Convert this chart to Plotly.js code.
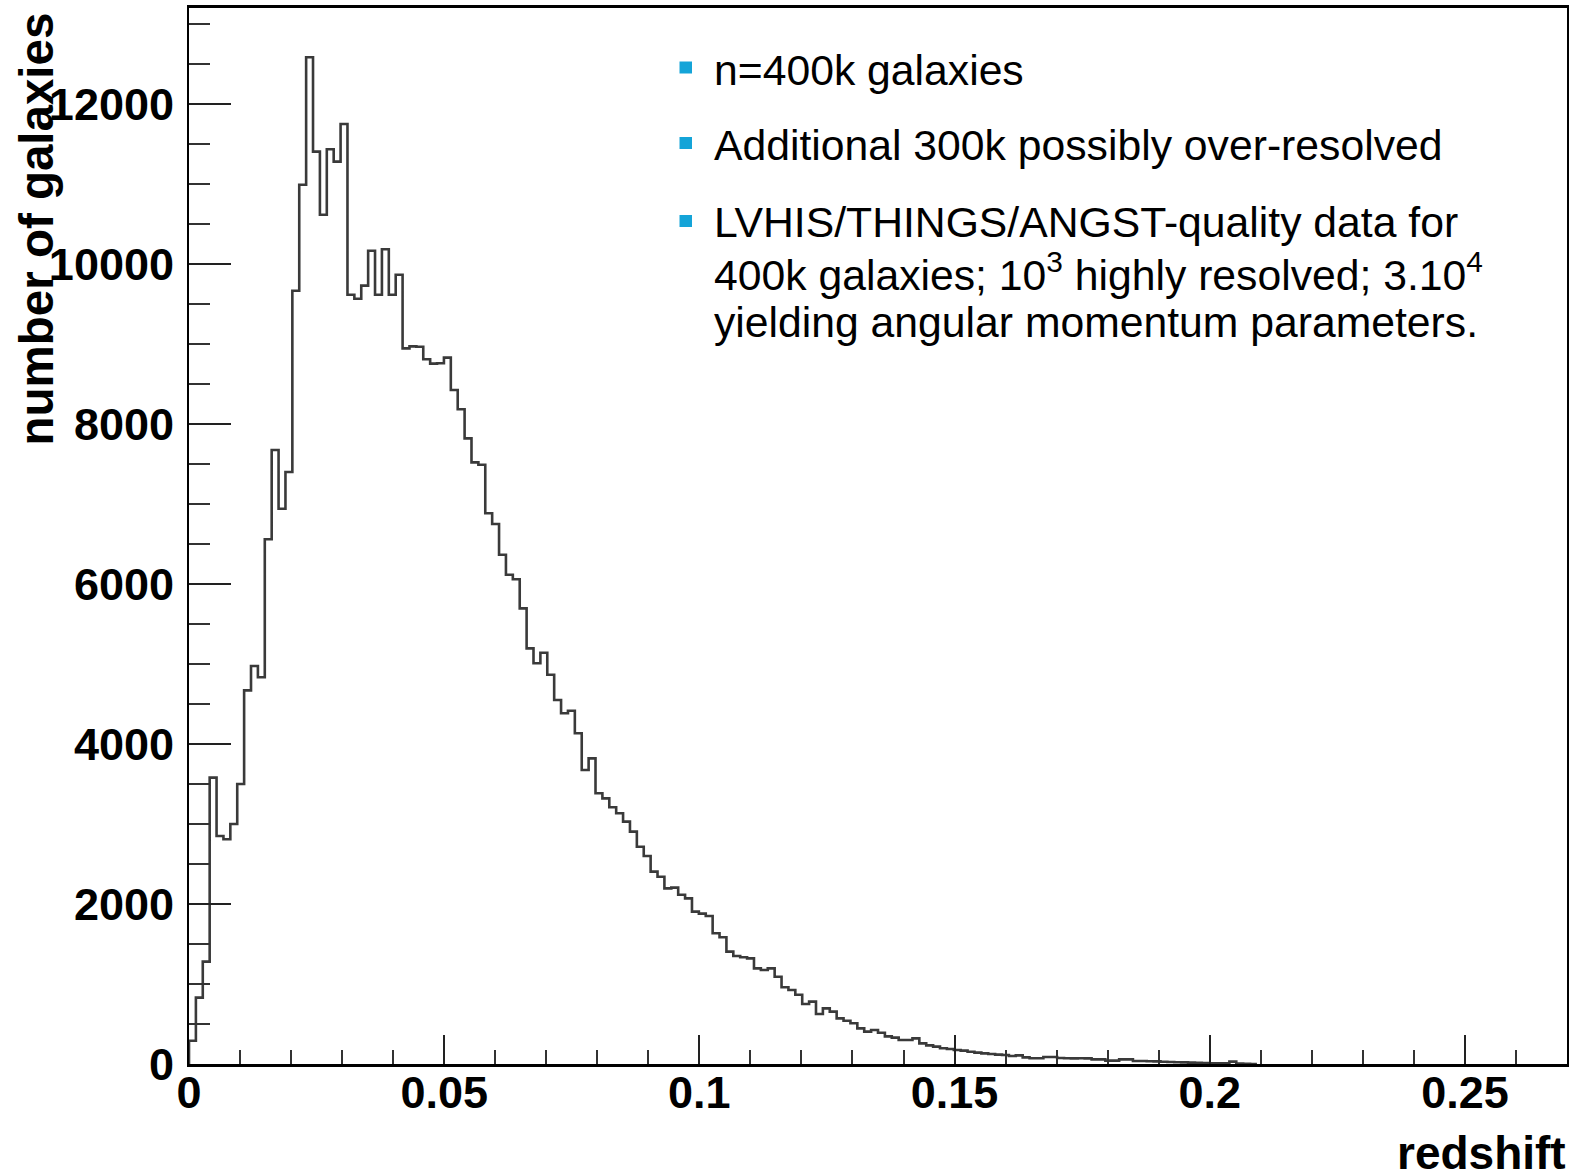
<!DOCTYPE html>
<html>
<head>
<meta charset="utf-8">
<script src="https://cdn.plot.ly/plotly-3.0.1.min.js"></script>
<style>
  html, body { margin: 0; padding: 0; background: #ffffff; }
  #chart { width: 1572px; height: 1173px; }
</style>
</head>
<body>
<div id="chart"></div>
<script>
// ---- data ----
const binWidth = 0.00135;          // redshift bin width (200 bins over 0..0.27)
const binCounts = [
  290, 830, 1280, 3580, 2850, 2810, 3000, 3500, 4670, 4975,
  4835, 6560, 7675, 6940, 7400, 9665, 10990, 12585, 11405, 10615,
  11435, 11280, 11750, 9615, 9565, 9730, 10165, 9615, 10185, 9615,
  9865, 8945, 8970, 8965, 8810, 8755, 8760, 8830, 8425, 8185,
  7820, 7520, 7490, 6885, 6750, 6365, 6115, 6060, 5695, 5195,
  5010, 5140, 4865, 4550, 4385, 4415, 4135, 3675, 3820, 3385,
  3320, 3210, 3135, 3030, 2905, 2715, 2600, 2405, 2340, 2195,
  2205, 2115, 2070, 1905, 1880, 1850, 1635, 1585, 1405, 1350,
  1335, 1320, 1195, 1175, 1195, 1090, 960, 925, 865, 750,
  780, 625, 695, 655, 570, 540, 510, 445, 405, 425,
  390, 345, 330, 300, 300, 320, 258, 233, 217, 196,
  188, 175, 167, 154, 142, 133, 125, 117, 112, 100,
  108, 83, 71, 71, 87, 87, 75, 72, 70, 72,
  70, 58, 58, 42, 42, 58, 58, 37, 37, 35,
  33, 28, 25, 22, 20, 17, 15, 12, 10, 10,
  8, 30, 5, 3, 0
];
const xTickVals = [0, 0.05, 0.1, 0.15, 0.2, 0.25];
const xTickText = ["0", "0.05", "0.1", "0.15", "0.2", "0.25"];
const xTitle = "redshift";
const yTitle = "number of galaxies";
const noteLines = [
  "n=400k galaxies",
  "Additional 300k possibly over-resolved",
  "LVHIS/THINGS/ANGST-quality data for",
  "400k galaxies; 10<sup>3</sup> highly resolved; 3.10<sup>4</sup>",
  "yielding angular momentum parameters."
];
const bulletLines = [0, 1, 2];

// ---- build step outline from bins ----
const xs = [0], ys = [0];
binCounts.forEach((c, i) => { xs.push(i * binWidth); ys.push(c); });
xs.push(binCounts.length * binWidth); ys.push(0);

// ---- layout geometry ----
const W = 1572, Hh = 1173;
const L = 189, R = 1567, T = 8, B = 1064;
const px = v => (v - L) / (R - L);
const py = v => (B - v) / (B - T);

const FONT = "Liberation Sans, Arial, Helvetica, sans-serif";
const noteCenters = [70, 145, 222, 272, 322];
const bulletCenters = [67.5, 143, 221];

const annotations = noteLines.map((t, i) => ({
  xref: 'paper', yref: 'paper', x: px(713), y: py(noteCenters[i]),
  xanchor: 'left', yanchor: 'middle', showarrow: false, borderpad: 0,
  text: t, font: {family: FONT, size: 42.7, color: '#000'}
}));
annotations.push({
  xref: 'paper', yref: 'paper', x: px(36), y: py(12),
  xanchor: 'center', yanchor: 'top', textangle: -90, showarrow: false, borderpad: 0,
  text: yTitle, font: {family: FONT, size: 47.5, color: '#000', weight: 'bold'}
});
annotations.push({
  xref: 'paper', yref: 'paper', x: px(1567), y: py(1153),
  xanchor: 'right', yanchor: 'middle', showarrow: false, borderpad: 0,
  text: xTitle, font: {family: FONT, size: 46, color: '#000', weight: 'bold'}
});

const shapes = bulletLines.map(i => ({
  type: 'rect', xref: 'paper', yref: 'paper',
  x0: px(679.5), x1: px(692), y0: py(bulletCenters[i] + 6), y1: py(bulletCenters[i] - 6),
  fillcolor: '#14a4d8', line: {width: 0}
}));

const trace = {
  type: 'scatter', mode: 'lines', x: xs, y: ys,
  line: {shape: 'hv', color: '#3a3a3a', width: 2.6},
  hoverinfo: 'x+y'
};

const tickFont = {family: FONT, size: 45, color: '#000', weight: 'bold'};

const layout = {
  width: W, height: Hh,
  margin: {l: L, r: W - R, t: T, b: Hh - B, pad: 0},
  paper_bgcolor: '#ffffff', plot_bgcolor: '#ffffff',
  showlegend: false,
  font: {family: FONT},
  xaxis: {
    range: [0, 0.27], tickmode: 'array', tickvals: xTickVals, ticktext: xTickText,
    ticks: 'inside', ticklen: 29, tickwidth: 2, tickcolor: '#222',
    minor: {dtick: 0.01, tick0: 0, ticks: 'inside', ticklen: 14, tickwidth: 2, tickcolor: '#333', showgrid: false},
    showline: true, linecolor: '#000', linewidth: 3, mirror: true,
    showgrid: false, zeroline: false,
    tickfont: tickFont, ticklabelstandoff: -13
  },
  yaxis: {
    range: [0, 13200], tick0: 0, dtick: 2000, tickmode: 'linear',
    ticks: 'inside', ticklen: 42, tickwidth: 2, tickcolor: '#222',
    minor: {dtick: 500, tick0: 0, ticks: 'inside', ticklen: 21, tickwidth: 2, tickcolor: '#333', showgrid: false},
    showline: true, linecolor: '#000', linewidth: 2, mirror: true,
    showgrid: false, zeroline: false,
    tickfont: tickFont, ticklabelstandoff: 4,
    tickformat: 'd'
  },
  annotations: annotations,
  shapes: shapes
};

Plotly.newPlot('chart', [trace], layout, {displayModeBar: false, staticPlot: true});
</script>
</body>
</html>
